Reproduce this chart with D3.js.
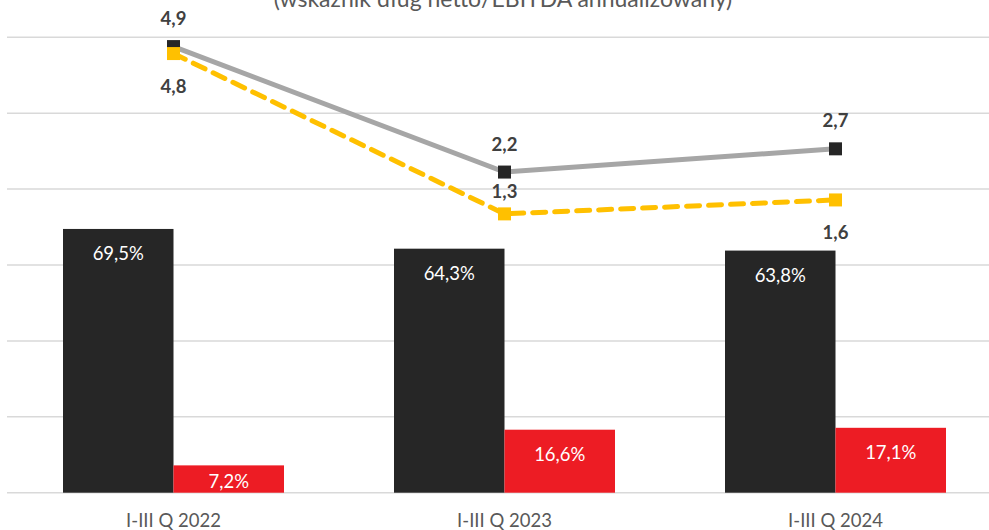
<!DOCTYPE html>
<html><head><meta charset="utf-8">
<script src="https://cdnjs.cloudflare.com/ajax/libs/d3/7.8.5/d3.min.js"></script>
<style>
html,body{margin:0;padding:0;background:#fff;}
svg{display:block;font-family:Lato,"Open Sans",sans-serif;}
</style></head>
<body>
<svg id="chart" width="989" height="530"></svg>
<script>
const title = "(wskaźnik dług netto/EBITDA annualizowany)";
const categories = ["I-III Q 2022", "I-III Q 2023", "I-III Q 2024"];
const barBlack = [69.5, 64.3, 63.8];
const barRed = [7.2, 16.6, 17.1];
const lineGray = [4.9, 2.2, 2.7];
const lineYellow = [4.75, 1.3, 1.6];
const yellowLabelSide = ["below", "above", "below"];
const barTicks = [0, 20, 40, 60, 80, 100, 120];

const W = 989, H = 530;
const svg = d3.select("#chart");
const fmtPct = v => d3.format(".1f")(v).replace(".", ",") + "%";
const fmtNum = v => d3.format(".1f")(v).replace(".", ",");

const x = d3.scaleBand().domain(categories).range([8, 1001]).padding(0);
const y = d3.scaleLinear().domain([0, 120]).range([492.7, 37.3]);
const y2 = d3.scaleLinear().domain([-4.7, 5.1]).range([492.7, 37.3]);
const barW = 110.5;
const cx = c => x(c) + x.bandwidth() / 2;

// gridlines
svg.append("g").selectAll("line").data(barTicks).join("line")
  .attr("x1", 7).attr("x2", W).attr("y1", d => y(d)).attr("y2", d => y(d))
  .attr("stroke", "#d9d9d9").attr("stroke-width", 1.5);

// title
svg.append("text").attr("x", 503).attr("y", 7).attr("text-anchor", "middle")
  .attr("font-size", 23).attr("fill", "#595959").text(title);

// bars
const bars = svg.append("g");
bars.selectAll("rect.b").data(categories).join("rect").attr("class", "b")
  .attr("x", c => cx(c) - barW).attr("width", barW)
  .attr("y", (c, i) => y(barBlack[i])).attr("height", (c, i) => y(0) - y(barBlack[i]))
  .attr("fill", "#262626");
bars.selectAll("rect.r").data(categories).join("rect").attr("class", "r")
  .attr("x", c => cx(c)).attr("width", barW)
  .attr("y", (c, i) => y(barRed[i])).attr("height", (c, i) => y(0) - y(barRed[i]))
  .attr("fill", "#ed1c24");

function barLabelY(v) {
  const top = y(v), h = y(0) - y(v);
  return top + Math.min(25, h / 2 + 2);
}
bars.selectAll("text.bl").data(categories).join("text").attr("class", "bl")
  .attr("x", c => cx(c) - barW / 2).attr("y", (c, i) => barLabelY(barBlack[i]))
  .attr("dy", "0.35em").attr("text-anchor", "middle").attr("font-size", 18.5)
  .attr("fill", "#ffffff").text((c, i) => fmtPct(barBlack[i]));
bars.selectAll("text.rl").data(categories).join("text").attr("class", "rl")
  .attr("x", c => cx(c) + barW / 2).attr("y", (c, i) => barLabelY(barRed[i]))
  .attr("dy", "0.35em").attr("text-anchor", "middle").attr("font-size", 18.5)
  .attr("fill", "#ffffff").text((c, i) => fmtPct(barRed[i]));

// x axis labels
const xAxis = d3.axisBottom(x).tickSize(0).tickPadding(0);
const gx = svg.append("g").attr("transform", "translate(0,514)").call(xAxis);
gx.select(".domain").remove();
gx.selectAll("text").attr("font-size", 18.5).attr("fill", "#595959")
  .attr("font-family", "Lato,'Open Sans',sans-serif");

// lines
const lineGen = d3.line().x((d, i) => cx(categories[i])).y(d => y2(d));
svg.append("path").datum(lineGray).attr("d", lineGen).attr("fill", "none")
  .attr("stroke", "#a6a6a6").attr("stroke-width", 5);
svg.append("g").selectAll("rect").data(lineGray).join("rect")
  .attr("x", (d, i) => cx(categories[i]) - 6.5).attr("y", d => y2(d) - 6.5)
  .attr("width", 13).attr("height", 13).attr("fill", "#262626");

svg.append("path").datum(lineYellow).attr("d", lineGen).attr("fill", "none")
  .attr("stroke", "#ffc000").attr("stroke-width", 5)
  .attr("stroke-dasharray", "13,9").attr("stroke-linecap", "round");
svg.append("g").selectAll("rect").data(lineYellow).join("rect")
  .attr("x", (d, i) => cx(categories[i]) - 6.5).attr("y", d => y2(d) - 6.5)
  .attr("width", 13).attr("height", 13).attr("fill", "#ffc000");

// point labels
svg.append("g").selectAll("text").data(lineGray).join("text")
  .attr("x", (d, i) => cx(categories[i])).attr("y", d => y2(d) - 28)
  .attr("dy", "0.35em").attr("text-anchor", "middle").attr("font-size", 18.5)
  .attr("font-weight", "bold").attr("fill", "#404040").text(d => fmtNum(d));
svg.append("g").selectAll("text").data(lineYellow).join("text")
  .attr("x", (d, i) => cx(categories[i]))
  .attr("y", (d, i) => y2(d) + (yellowLabelSide[i] === "below" ? 33 : -22))
  .attr("dy", "0.35em").attr("text-anchor", "middle").attr("font-size", 18.5)
  .attr("font-weight", "bold").attr("fill", "#404040").text(d => fmtNum(d));
</script>
</body></html>
